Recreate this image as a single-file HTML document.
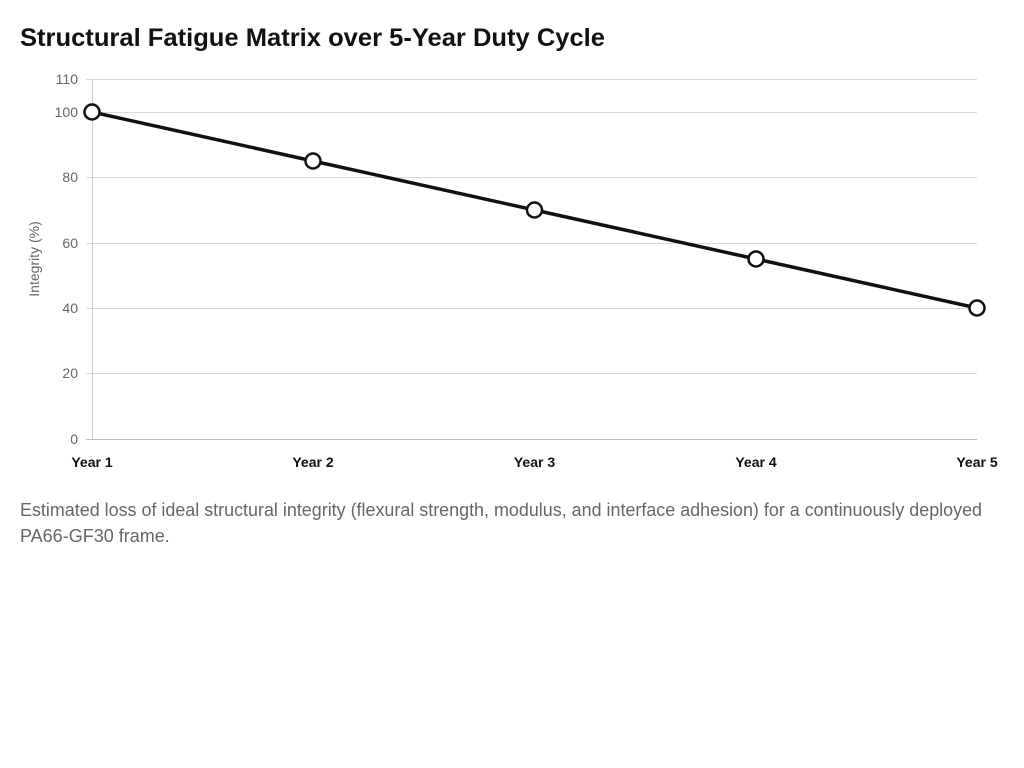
<!DOCTYPE html>
<html><head><meta charset="utf-8"><style>
body{margin:0;background:#fff;width:1024px;height:768px;overflow:hidden;font-family:"Liberation Sans",Arial,sans-serif}
</style></head><body>
<svg width="1024" height="768" xmlns="http://www.w3.org/2000/svg" style="position:absolute;left:0;top:0">
<text x="20" y="46" font-size="25" font-weight="bold" fill="#111" textLength="585" lengthAdjust="spacingAndGlyphs" font-family="Liberation Sans, Arial, sans-serif">Structural Fatigue Matrix over 5-Year Duty Cycle</text>
<g stroke="#d9d9d9" stroke-width="1">
<line x1="86" y1="79.5" x2="977" y2="79.5"/>
<line x1="86" y1="112.5" x2="977" y2="112.5"/>
<line x1="86" y1="177.5" x2="977" y2="177.5"/>
<line x1="86" y1="243.5" x2="977" y2="243.5"/>
<line x1="86" y1="308.5" x2="977" y2="308.5"/>
<line x1="86" y1="373.5" x2="977" y2="373.5"/>
</g>
<line x1="92.5" y1="79" x2="92.5" y2="439" stroke="#ccc"/>
<line x1="86" y1="439.5" x2="977" y2="439.5" stroke="#bbb"/>
<g font-size="14" fill="#666" text-anchor="end" font-family="Liberation Sans, Arial, sans-serif">
<text x="78" y="84">110</text><text x="78" y="117">100</text><text x="78" y="182">80</text>
<text x="78" y="248">60</text><text x="78" y="313">40</text><text x="78" y="378">20</text><text x="78" y="444">0</text>
</g>
<text transform="translate(39,259) rotate(-90)" font-size="14" fill="#666" text-anchor="middle" font-family="Liberation Sans, Arial, sans-serif">Integrity (%)</text>
<g font-size="14" font-weight="bold" fill="#111" text-anchor="middle" font-family="Liberation Sans, Arial, sans-serif">
<text x="92" y="467">Year 1</text><text x="313" y="467">Year 2</text><text x="534.5" y="467">Year 3</text>
<text x="756" y="467">Year 4</text><text x="977" y="467">Year 5</text>
</g>
<polyline points="92,112 313,161 534.5,210 756,259 977,308" fill="none" stroke="#111" stroke-width="3.5"/>
<g fill="#fff" stroke="#111" stroke-width="2.5">
<circle cx="92" cy="112" r="7.5"/><circle cx="313" cy="161" r="7.5"/><circle cx="534.5" cy="210" r="7.5"/>
<circle cx="756" cy="259" r="7.5"/><circle cx="977" cy="308" r="7.5"/>
</g>
<g font-size="18" fill="#666" font-family="Liberation Sans, Arial, sans-serif">
<text x="20" y="516" textLength="962" lengthAdjust="spacingAndGlyphs">Estimated loss of ideal structural integrity (flexural strength, modulus, and interface adhesion) for a continuously deployed</text>
<text x="20" y="542">PA66-GF30 frame.</text>
</g>
</svg>
</body></html>
